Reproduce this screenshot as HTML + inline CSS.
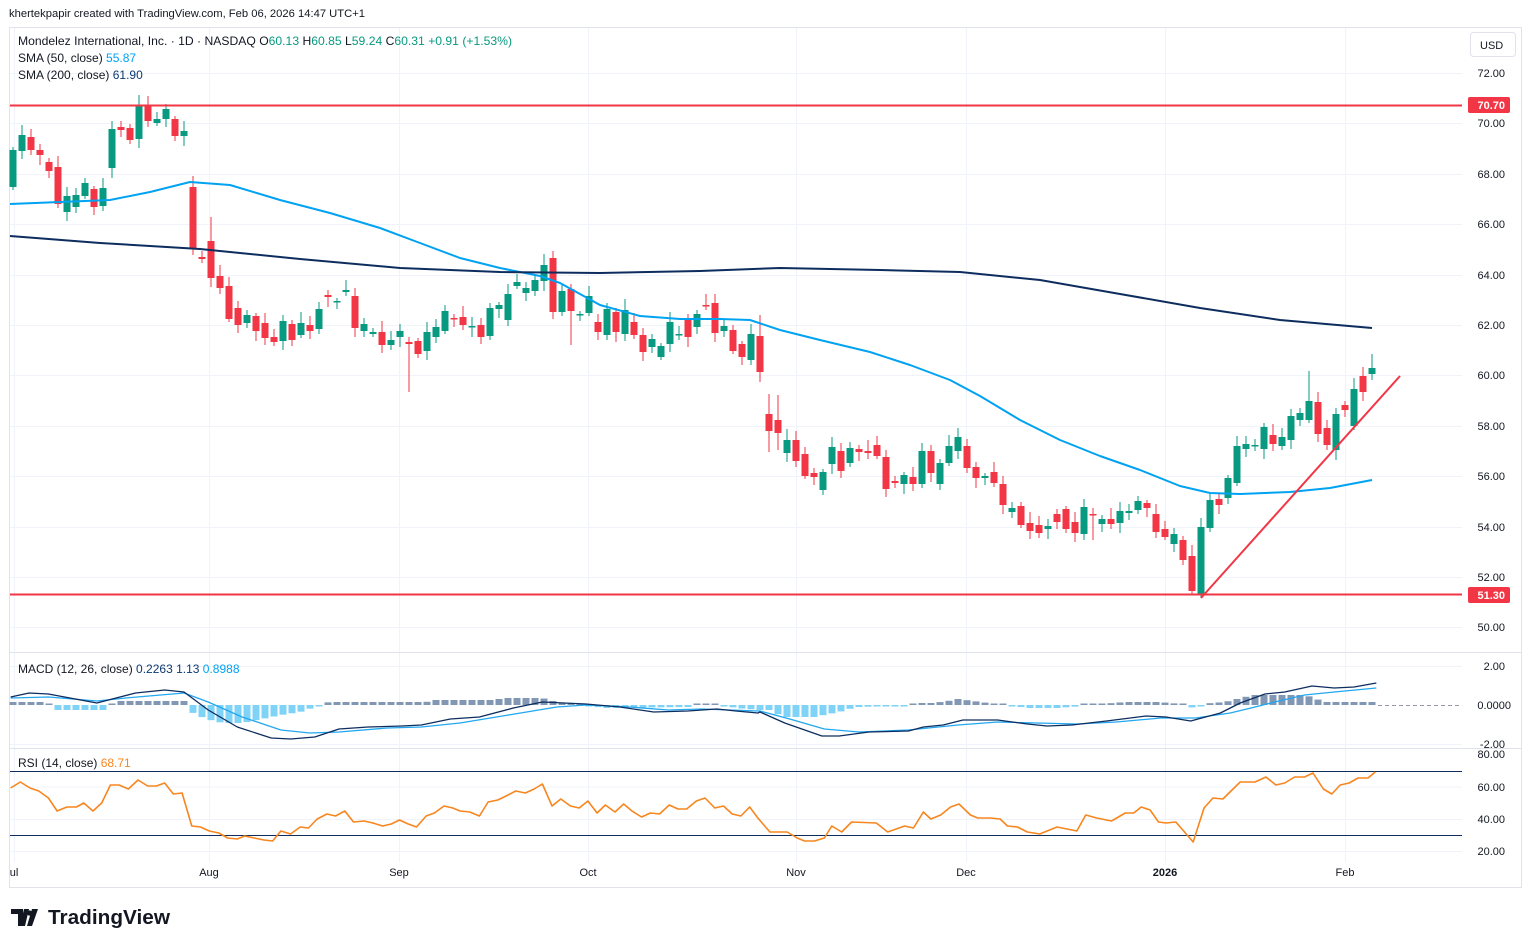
<!DOCTYPE html>
<html><head><meta charset="utf-8">
<style>
body{margin:0;background:#fff;width:1531px;height:947px;overflow:hidden;font-family:"Liberation Sans",sans-serif;}
svg{position:absolute;left:0;top:0}
</style></head><body>
<svg id="s" width="1531" height="947" xmlns="http://www.w3.org/2000/svg" font-family="Liberation Sans, sans-serif">
<rect x="0" y="0" width="1531" height="947" fill="#fff"/>
<text x="9" y="17" font-size="11.2" fill="#131722" textLength="356" lengthAdjust="spacingAndGlyphs">khertekpapir created with TradingView.com, Feb 06, 2026 14:47 UTC+1</text>
<rect x="9.5" y="27.5" width="1512" height="860" fill="none" stroke="#e0e3eb"/>
<g id="grid" stroke="#f0f3fa" stroke-width="1"></g>
<g id="main"></g>
<text x="18" y="45" font-size="12" fill="#131722" textLength="494" lengthAdjust="spacingAndGlyphs">Mondelez International, Inc. · 1D · NASDAQ  O<tspan fill="#089981">60.13</tspan>  H<tspan fill="#089981">60.85</tspan>  L<tspan fill="#089981">59.24</tspan>  C<tspan fill="#089981">60.31</tspan>  <tspan fill="#089981">+0.91 (+1.53%)</tspan></text>
<text x="18" y="62" font-size="12" fill="#131722">SMA (50, close) <tspan fill="#00a2f2">55.87</tspan></text>
<text x="18" y="79" font-size="12" fill="#131722">SMA (200, close) <tspan fill="#0d3a70">61.90</tspan></text>
<rect x="1470.5" y="32.5" width="45" height="24" rx="3" fill="#fff" stroke="#e0e3eb"/>
<text x="1480" y="49" font-size="11" fill="#131722">USD</text>
<text x="18" y="673" font-size="12" fill="#131722">MACD (12, 26, close) <tspan fill="#0d3a70">0.2263</tspan> <tspan fill="#0d3a70">1.13</tspan> <tspan fill="#00a2f2">0.8988</tspan></text>
<text x="18" y="767" font-size="12" fill="#131722">RSI (14, close) <tspan fill="#f7861f">68.71</tspan></text>
<g font-size="11" fill="#131722" text-anchor="middle">
<text x="14" y="876">ul</text><text x="209" y="876">Aug</text><text x="399" y="876">Sep</text><text x="588" y="876">Oct</text><text x="796" y="876">Nov</text><text x="966" y="876">Dec</text><text x="1165" y="876" font-weight="bold">2026</text><text x="1345" y="876">Feb</text>
</g>
<g transform="translate(11,908)"><path d="M0 1h12v17h-5v-12h-7z M13 1h5l-4 17h-5z" fill="#131722"/><circle cx="18.5" cy="5" r="2.6" fill="#131722"/><path d="M21 1h6l-6 17h-5z" fill="#131722"/></g>
<text x="48" y="924" font-size="20" font-weight="bold" fill="#131722" textLength="122" lengthAdjust="spacingAndGlyphs">TradingView</text>
</svg>
<script>
var S='http://www.w3.org/2000/svg';
function el(p,t,a){var e=document.createElementNS(S,t);for(var k in a)e.setAttribute(k,a[k]);p.appendChild(e);return e;}
var g=document.getElementById('grid'),m=document.getElementById('main'),svg=document.getElementById('s');
var py=[73,123,174,224,275,325,375,426,476,527,577,627];
py.forEach(function(y){el(g,'line',{x1:10,x2:1462,y1:y+.5,y2:y+.5});});
[14,209,399,588,796,966,1165,1345].forEach(function(x){el(g,'line',{x1:x+.5,x2:x+.5,y1:28,y2:862});});
[666,744,786.5,819,851].forEach(function(y){el(g,'line',{x1:10,x2:1462,y1:y+.5,y2:y+.5});});
el(g,'line',{x1:10,x2:1521,y1:652.5,y2:652.5,stroke:'#e0e3eb'});
el(g,'line',{x1:10,x2:1521,y1:748.5,y2:748.5,stroke:'#e0e3eb'});
var lbl=['72.00','70.00','68.00','66.00','64.00','62.00','60.00','58.00','56.00','54.00','52.00','50.00'];
py.forEach(function(y,i){var t=el(svg,'text',{x:1505,y:y+4,'font-size':11,fill:'#131722','text-anchor':'end'});t.textContent=lbl[i];});
[['2.00',670],['0.0000',709],['-2.00',748],['80.00',758],['60.00',791],['40.00',823],['20.00',855]].forEach(function(a){var t=el(svg,'text',{x:a[0].length>5?1511:1505,y:a[1],'font-size':11,fill:'#131722','text-anchor':'end'});t.textContent=a[0];});
var C=[[150,187,1],[135,151,1],[137,150,0],[150,155,0],[162,171,0],[167,204,0],[196,212,1],[195,207,1],[183,196,1],[189,207,0],[188,206,1],[129,168,1],[127,130,0],[128,140,0],[105,139,1],[105,121,0],[119,123,1],[109,119,1],[119,136,0],[131,136,1],[187,248,0],[257,259,0],[241,278,0],[276,288,0],[286,319,0],[308,325,0],[315,323,1],[316,331,0],[323,338,0],[337,342,0],[321,341,1],[324,340,0],[323,335,1],[325,331,0],[309,329,1],[295,297,0],[301,302,1],[290,292,1],[296,328,0],[324,331,1],[332,334,1],[332,345,0],[340,345,1],[331,337,1],[342,344,0],[341,354,0],[332,351,1],[327,337,1],[311,331,1],[318,319,0],[317,325,0],[326,327,1],[325,337,0],[308,336,1],[305,309,1],[294,320,1],[282,286,1],[288,293,1],[280,291,1],[265,281,1],[258,312,0],[291,312,1],[289,311,0],[314,315,1],[296,313,1],[322,332,0],[309,335,1],[312,332,0],[310,334,1],[322,335,0],[335,352,0],[339,347,1],[346,357,1],[322,344,1],[334,335,1],[320,337,0],[314,327,1],[305,306,0],[303,333,0],[326,331,1],[330,351,0],[344,357,0],[334,360,1],[336,372,0],[414,431,0],[420,433,0],[440,453,1],[440,461,0],[454,476,0],[473,477,0],[472,490,1],[447,464,1],[451,471,0],[448,463,1],[449,452,0],[451,453,0],[445,456,0],[457,489,0],[481,483,0],[475,484,1],[477,484,0],[451,484,1],[451,473,0],[463,484,1],[446,463,1],[437,451,1],[446,468,0],[467,478,0],[476,478,1],[472,483,0],[484,505,0],[508,512,1],[506,525,0],[523,531,0],[525,533,0],[526,529,1],[514,522,0],[509,529,0],[522,533,0],[507,534,1],[514,515,0],[519,524,1],[519,524,0],[511,523,1],[511,513,1],[501,510,1],[503,508,0],[514,532,0],[529,537,0],[534,544,1],[540,560,0],[556,591,0],[527,595,1],[500,528,1],[499,505,0],[478,498,1],[446,483,1],[444,449,1],[445,446,1],[427,449,1],[435,444,0],[437,446,1],[416,440,1],[413,420,1],[401,420,1],[402,434,0],[428,445,0],[414,450,1],[405,410,0],[389,426,1],[376,392,0],[368,374,1]];
var W={14:[95,0],20:[176,0],22:[217,0],44:[0,392],60:[251,0],62:[0,345],83:[315,0],84:[394,452],85:[395,450],131:[0,594],132:[0,598],144:[371,0],151:[354,0],120:[0,540]};
var n=C.length,X=[];
for(var i=0;i<n;i++){var x=13+(1372-13)*i/(n-1);X.push(x);var c=C[i],col=c[2]?'#089981':'#f23645';
var wt=c[0]-(3+(i*7)%9),wb=c[1]+(3+(i*5)%8);if(W[i]){if(W[i][0])wt=W[i][0];if(W[i][1])wb=W[i][1];}
el(m,'line',{x1:x,x2:x,y1:wt,y2:wb,stroke:col,'stroke-width':1});
el(m,'rect',{x:x-3.5,y:c[0],width:7,height:Math.max(1.5,c[1]-c[0]),fill:col});}
function pl(p,pts,col,w){el(p,'polyline',{points:pts.map(function(a){return a[0]+','+a[1]}).join(' '),fill:'none',stroke:col,'stroke-width':w,'stroke-linejoin':'round'});}
pl(m,[[10,204],[60,202],[110,200],[150,192],[190,182],[230,185],[280,200],[330,213],[380,228],[420,243],[460,258],[500,268],[540,276],[560,283],[600,305],[640,316],[680,319],[720,319],[750,320],[780,330],[820,340],[870,352],[910,365],[950,380],[980,396],[1020,420],[1060,440],[1100,456],[1140,470],[1180,486],[1210,493],[1240,494],[1290,492],[1330,488],[1372,480]],'#00a2f2',2);
pl(m,[[10,236],[100,243],[200,249],[300,259],[400,268],[500,272],[600,273],[700,271],[780,268],[880,270],[960,272],[1040,280],[1120,294],[1200,308],[1280,320],[1372,328]],'#0d2d5e',2);
el(m,'line',{x1:10,x2:1462,y1:105.5,y2:105.5,stroke:'#f23645','stroke-width':2});
el(m,'line',{x1:10,x2:1462,y1:594.5,y2:594.5,stroke:'#f23645','stroke-width':2});
el(m,'line',{x1:1201,y1:598,x2:1400,y2:376,stroke:'#f23645','stroke-width':2});
[['70.70',105],['51.30',595]].forEach(function(a){el(svg,'rect',{x:1468,y:a[1]-8,width:42,height:16,rx:2,fill:'#f23645'});var t=el(svg,'text',{x:1505,y:a[1]+4,'font-size':11,'font-weight':'bold',fill:'#fff','text-anchor':'end'});t.textContent=a[0];});
function interp(pts,x){for(var j=1;j<pts.length;j++){if(x<=pts[j][0]){var a=pts[j-1],b=pts[j];return a[1]+(b[1]-a[1])*(x-a[0])/(b[0]-a[0]);}}return pts[pts.length-1][1];}
var H=[[0,3],[48,3],[53,-5],[104,-5],[116,4],[184,4],[189,-6],[206,-14],[223,-18],[242,-18],[262,-14],[281,-10],[300,-7],[315,-2],[329,3],[426,3],[436,5],[494,5],[504,7],[542,7],[557,3],[581,0],[605,-3],[688,-2],[697,1.5],[717,1.5],[736,-3],[760,-5],[775,-5],[780,-12],[814,-12],[824,-10],[839,-7],[849,-4],[859,-2],[874,-1.5],[909,-1.5],[918,2],[933,2],[948,4],[958,6],[973,4],[988,2],[1008,0],[1027,-3],[1057,-3],[1077,-1.5],[1087,1.5],[1107,1.5],[1126,3],[1156,3],[1171,2],[1186,0],[1196,-4],[1206,1.5],[1225,3],[1245,8],[1255,10],[1305,10],[1314,7],[1324,3],[1376,3]];
for(var i=0;i<n;i++){var h=interp(H,X[i]);if(Math.abs(h)<1.5)h=h<0?-1.5:1.5;el(m,'rect',{x:X[i]-3.5,y:h>0?705-h:705,width:7,height:Math.abs(h),fill:h>0?'#8197b3':'#7fd3f7'});}
el(m,'line',{x1:1378,x2:1462,y1:705.5,y2:705.5,stroke:'#9598a1','stroke-dasharray':'4 3'});
function cv(arr,off,sc){return arr.map(function(a){return [off+a[0]/sc,a[1]];});}
var md=cv([[22,697],[60,693],[100,694],[200,703],[280,693],[340,690],[380,692],[430,710],[490,727],[560,738],[600,739],[650,737],[700,729],[760,727],[830,726],[870,725],[930,719],[990,717],[1060,708],[1120,702],[1210,704],[1280,707],[1350,712],[1420,711],[1480,709],[1520,711],[1565,713]],0,2.065).concat(cv([[0,712],[50,723],[125,736],[160,736],[220,732],[300,731],[330,727],[370,725],[410,720],[480,720],[540,724],[580,726],[630,725],[700,721],[780,716],[820,717],[870,721],[930,713],[970,703],[1020,694],[1060,692],[1115,686],[1160,688],[1200,687],[1245,683]],760,2.02));
var sg=cv([[22,698],[100,697],[200,701],[260,698],[380,693],[430,702],[500,717],[580,730],[640,733],[700,732],[800,728],[870,727],[950,723],[1050,715],[1150,707],[1210,705],[1300,707],[1380,710],[1450,709],[1565,711]],0,2.065).concat(cv([[0,711],[60,719],[130,729],[200,732],[300,730],[400,725],[480,722],[560,723],[640,724],[720,722],[810,718],[880,718],[950,713],[1000,707],[1040,702],[1100,695],[1160,692],[1245,688]],760,2.02));
pl(m,sg,'#22a7f0',1.3);pl(m,md,'#0d2d5e',1.3);
el(m,'line',{x1:10,x2:1462,y1:771.5,y2:771.5,stroke:'#0d2d5e'});
el(m,'line',{x1:10,x2:1462,y1:835.5,y2:835.5,stroke:'#0d2d5e'});
var r1=[[22,788],[42,782],[62,788],[80,791],[100,798],[118,811],[138,807],[158,807],[173,803],[192,811],[210,803],[228,785],[246,785],[265,789],[285,780],[305,786],[323,786],[340,783],[358,794],[376,793],[396,826],[414,827],[432,831],[452,833],[470,838],[490,839],[505,836],[525,838],[545,840],[563,841],[580,831],[600,834],[620,827],[637,828],[655,819],[675,814],[693,816],[712,811],[730,822],[752,821],[770,823],[790,826],[808,824],[825,820],[843,824],[860,827],[880,816],[897,813],[917,806],[935,808],[950,811],[970,812],[990,816],[1008,802],[1028,800],[1045,796],[1065,791],[1085,793],[1103,789],[1120,784],[1140,806],[1158,799],[1178,806],[1196,808],[1214,801],[1233,813],[1250,805],[1270,812],[1288,804],[1305,811],[1325,817],[1343,813],[1362,814],[1382,805],[1400,809],[1418,809],[1438,801],[1456,798],[1476,808],[1494,806],[1512,814],[1530,816],[1548,807],[1565,818]];
var r2=[[20,832],[55,832],[75,838],[90,841],[110,841],[130,838],[145,826],[165,832],[185,822],[235,823],[258,832],[292,826],[310,828],[330,812],[345,819],[365,815],[385,807],[402,804],[425,815],[440,818],[465,818],[485,819],[500,826],[520,827],[540,832],[565,834],[600,827],[640,831],[658,815],[680,818],[710,821],[738,813],[755,813],[770,807],[788,810],[805,822],[820,823],[840,822],[875,842],[897,808],[915,798],[935,799],[970,782],[1000,782],[1022,777],[1042,785],[1060,783],[1080,777],[1100,777],[1117,773],[1138,789],[1155,794],[1172,785],[1190,783],[1208,778],[1228,778],[1243,772]];
pl(m,cv(r1,0,2.065).concat(cv(r2,760,2.02)),'#f7861f',1.6);
</script>
</body></html>
